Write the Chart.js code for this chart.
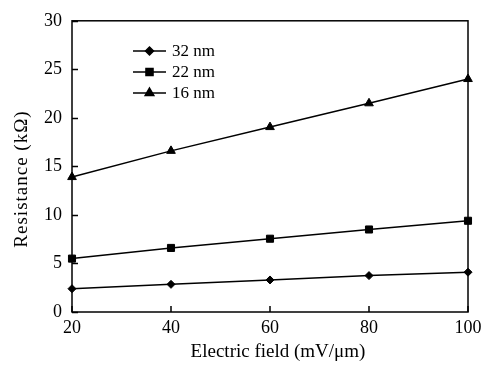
<!DOCTYPE html>
<html>
<head>
<meta charset="utf-8">
<script src="https://cdn.jsdelivr.net/npm/chart.js@4/dist/chart.umd.min.js"></script>
<style>
html,body{margin:0;padding:0;background:#fff;}
#wrap{width:491px;height:368px;}
</style>
</head>
<body>
<div id="wrap"><canvas id="c" width="491" height="368"></canvas></div>
<script>
const fields = [20, 40, 60, 80, 100];
const r32 = [2.4, 2.85, 3.3, 3.75, 4.1];
const r22 = [5.5, 6.6, 7.55, 8.5, 9.4];
const r16 = [13.9, 16.6, 19.05, 21.5, 24.0];
const seriesNames = ['32 nm', '22 nm', '16 nm'];
const xTicks = [20, 40, 60, 80, 100];
const yTicks = [0, 5, 10, 15, 20, 25, 30];
const xTitle = 'Electric field (mV/μm)';
const yTitle = 'Resistance (kΩ)';

const FONT = '"Liberation Serif", "Times New Roman", serif';
const pts = (arr) => fields.map((x, i) => ({x: x, y: arr[i]}));

const styles = [
  {pointStyle: 'rectRot', radius: 4},
  {pointStyle: 'rect', radius: 5},
  {pointStyle: 'triangle', radius: 5}
];

const boxPlugin = {
  id: 'box',
  afterDatasetsDraw(chart) {
    const {ctx, chartArea: a, scales} = chart;
    ctx.save();
    ctx.strokeStyle = '#000';
    ctx.lineWidth = 1.5;
    ctx.strokeRect(a.left, a.top, a.right - a.left, a.bottom - a.top);
    ctx.beginPath();
    yTicks.forEach(v => {
      const y = Math.round(scales.y.getPixelForValue(v)) + 0.5;
      ctx.moveTo(a.left, y); ctx.lineTo(a.left + 6, y);
    });
    xTicks.forEach(v => {
      const x = Math.round(scales.x.getPixelForValue(v));
      ctx.moveTo(x, a.bottom); ctx.lineTo(x, a.bottom - 6);
    });
    ctx.stroke();
    // legend
    const lx0 = 133, lx1 = 166, tx = 172, rows = [51, 72, 93];
    ctx.font = '17px ' + FONT;
    ctx.fillStyle = '#000';
    ctx.textBaseline = 'middle';
    ctx.textAlign = 'left';
    chart.data.datasets.forEach((ds, i) => {
      const y = rows[i];
      ctx.beginPath();
      ctx.lineWidth = 1.5;
      ctx.moveTo(lx0, y); ctx.lineTo(lx1, y); ctx.stroke();
      Chart.helpers.drawPoint(ctx, {pointStyle: ds.pointStyle, radius: ds.pointRadius, borderWidth: 1}, (lx0 + lx1) / 2, y);
      ctx.fillText(ds.label, tx, y + 1);
    });
    // axis titles
    ctx.font = '19px ' + FONT;
    ctx.textAlign = 'center';
    ctx.fillText(xTitle, 278, 352);
    ctx.save();
    ctx.translate(22, 179);
    ctx.rotate(-Math.PI / 2);
    ctx.letterSpacing = '1px';
    ctx.fillText(yTitle, 0, 0);
    ctx.restore();
    ctx.restore();
  }
};

const datasets = [r32, r22, r16].map((arr, i) => ({
  label: seriesNames[i],
  data: pts(arr),
  borderColor: '#000',
  backgroundColor: '#000',
  borderWidth: 1.5,
  pointStyle: styles[i].pointStyle,
  pointRadius: styles[i].radius,
  pointBorderWidth: 1,
  pointBackgroundColor: '#000',
  pointBorderColor: '#000',
  tension: 0,
  clip: false
}));

new Chart(document.getElementById('c'), {
  type: 'line',
  data: {datasets},
  options: {
    responsive: false,
    animation: false,
    devicePixelRatio: 1,
    layout: {padding: {left: 0, right: 23, top: 20, bottom: 0}},
    plugins: {legend: {display: false}, tooltip: {enabled: false}},
    scales: {
      x: {
        type: 'linear', min: 20, max: 100,
        afterBuildTicks: (s) => { s.ticks = xTicks.map(v => ({value: v})); },
        afterFit: (s) => { s.height = 56; },
        grid: {display: false, drawTicks: false},
        border: {display: false},
        ticks: {color: '#000', font: {family: FONT, size: 18}, padding: 5, maxRotation: 0}
      },
      y: {
        type: 'linear', min: 0, max: 30,
        afterBuildTicks: (s) => { s.ticks = yTicks.map(v => ({value: v})); },
        afterFit: (s) => { s.width = 72; },
        grid: {display: false, drawTicks: false},
        border: {display: false},
        ticks: {color: '#000', font: {family: FONT, size: 18}, padding: 10}
      }
    }
  },
  plugins: [boxPlugin]
});
</script>
</body>
</html>
